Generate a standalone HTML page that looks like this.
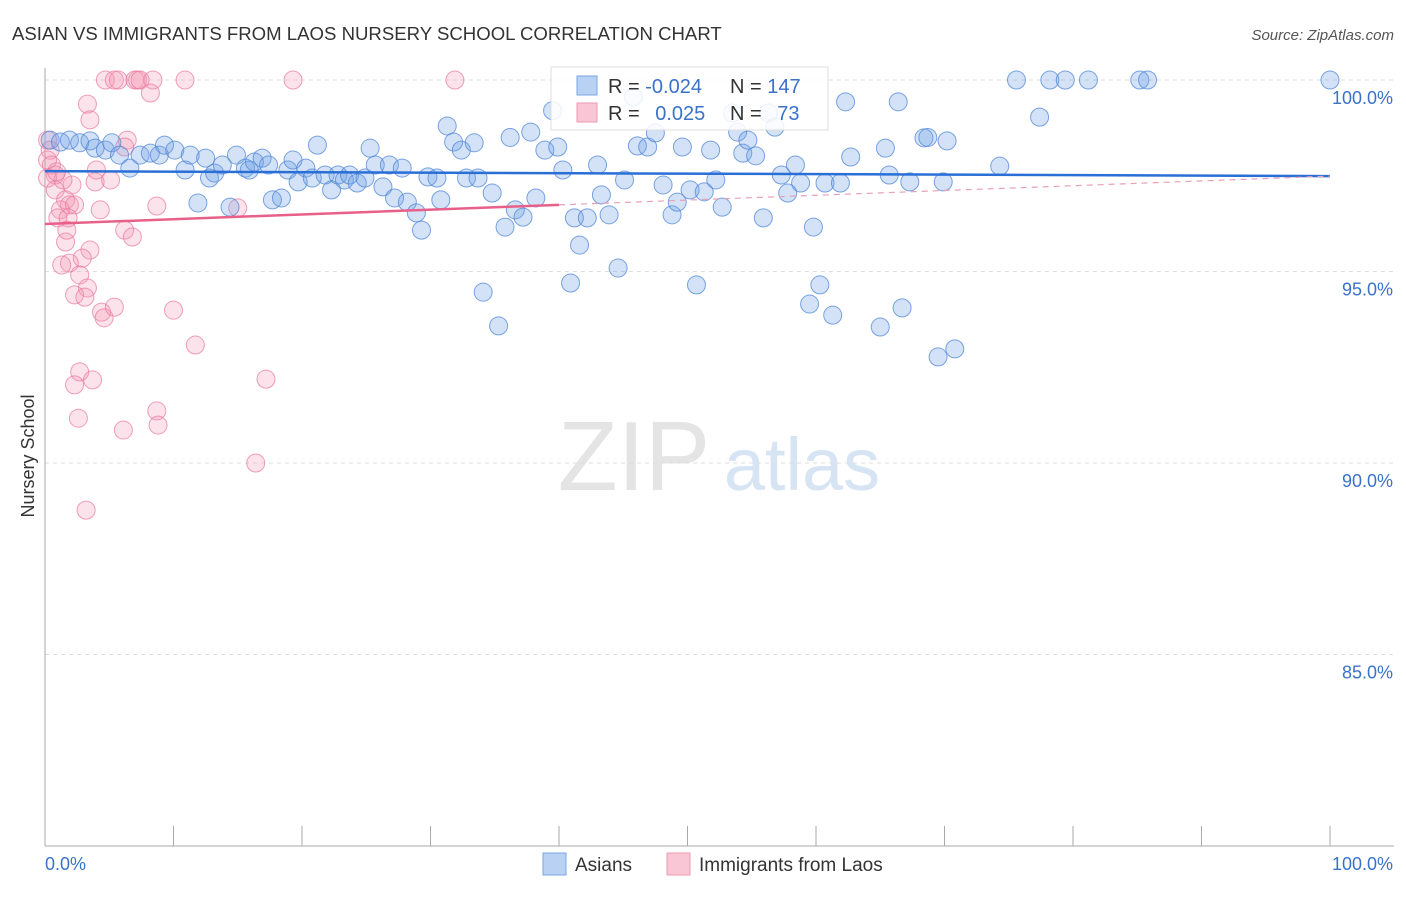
<!DOCTYPE html>
<html><head><meta charset="utf-8"><style>
body{margin:0;background:#fff;font-family:"Liberation Sans",sans-serif;}
svg text{font-family:"Liberation Sans",sans-serif;}
</style></head><body>
<svg id="c" width="1406" height="892">
<text x="12" y="40" font-size="18.6" fill="#333">ASIAN VS IMMIGRANTS FROM LAOS NURSERY SCHOOL CORRELATION CHART</text>
<text x="1394" y="40" font-size="15" fill="#555" font-style="italic" text-anchor="end">Source: ZipAtlas.com</text>
<text x="634" y="490" font-size="98" fill="#e4e4e4" font-family="Liberation Serif" text-anchor="middle">ZIP</text>
<text x="802" y="490" font-size="74" fill="#d6e4f4" text-anchor="middle">atlas</text>
<text transform="translate(34,456) rotate(-90)" font-size="18" fill="#333" text-anchor="middle">Nursery School</text>
<g id="grid"></g><g id="pts"></g><g id="lines"></g>
<g>
<rect x="551" y="67" width="277" height="63" fill="#fff" fill-opacity="0.85" stroke="#ddd"/>
<rect x="577" y="76" width="20" height="19" fill="#b9d2f3" stroke="#7aa6e0"/>
<rect x="577" y="103" width="20" height="19" fill="#f8c6d4" stroke="#ec9ab3"/>
<text x="608" y="93" font-size="20" fill="#333">R = <tspan fill="#3a72c9">-0.024</tspan></text>
<text x="730" y="93" font-size="20" fill="#333">N = <tspan fill="#3a72c9">147</tspan></text>
<text x="608" y="120" font-size="20" fill="#333">R = <tspan fill="#3a72c9" dx="10">0.025</tspan></text>
<text x="730" y="120" font-size="20" fill="#333">N = <tspan fill="#3a72c9" dx="10">73</tspan></text>
</g>
<g>
<rect x="543" y="853" width="23" height="22" fill="#b9d2f3" stroke="#7aa6e0"/>
<text x="575" y="871" font-size="19" fill="#333">Asians</text>
<rect x="667" y="853" width="23" height="22" fill="#f8c6d4" stroke="#ec9ab3"/>
<text x="699" y="871" font-size="19" fill="#333">Immigrants from Laos</text>
</g>
</svg>
<script>
const blueX=[0.4,1.2,1.9,2.7,3.5,3.9,4.7,5.2,5.8,6.6,7.4,8.2,8.9,9.3,10.1,10.9,11.3,11.9,12.5,12.8,13.2,13.8,14.4,14.9,15.6,15.9,16.3,16.9,17.4,17.7,18.4,18.9,19.3,19.7,20.3,20.8,21.2,21.8,22.3,22.8,23.3,23.7,24.3,24.9,25.3,25.7,26.3,26.8,27.2,27.8,28.2,28.9,29.3,29.8,30.5,30.8,31.3,31.8,32.4,32.8,33.4,33.7,34.1,34.8,35.3,35.8,36.2,36.6,37.2,37.8,38.2,38.9,39.5,39.9,40.3,40.9,41.2,41.6,42.2,43.0,43.3,43.9,44.6,45.1,45.8,46.1,46.9,47.5,48.1,48.8,49.2,49.6,50.2,50.7,51.3,51.8,52.2,52.7,53.5,53.9,54.3,54.7,55.3,55.9,56.3,56.8,57.3,57.8,58.4,58.8,59.5,59.8,60.3,60.7,61.3,61.9,62.3,62.7,65.0,65.4,65.7,66.4,66.7,67.3,68.4,68.7,69.5,69.9,70.2,70.8,74.3,75.6,77.4,78.2,79.4,81.2,85.2,85.8,100];
const blueY=[98.43,98.38,98.43,98.36,98.41,98.22,98.17,98.36,98.04,97.7,98.04,98.09,98.04,98.3,98.17,97.65,98.04,96.79,97.96,97.44,97.57,97.78,96.68,98.04,97.7,97.65,97.86,97.96,97.78,96.87,96.92,97.65,97.91,97.34,97.7,97.44,98.3,97.52,97.13,97.52,97.39,97.52,97.31,97.44,98.22,97.78,97.21,97.78,96.92,97.7,96.81,96.53,96.08,97.47,97.44,96.87,98.8,98.38,98.17,97.44,98.36,97.44,94.46,97.05,93.58,96.16,98.5,96.61,96.42,98.64,96.92,98.17,99.2,98.25,97.65,94.7,96.4,95.69,96.4,97.78,97.0,96.48,95.09,97.39,99.56,98.28,98.25,98.62,97.26,96.48,96.81,98.25,97.13,94.65,97.08,98.17,97.39,96.68,99.14,98.64,98.09,98.43,98.02,96.4,99.14,98.77,97.52,97.05,97.78,97.31,94.15,96.16,94.65,97.31,93.86,97.31,99.43,97.99,93.55,98.22,97.52,99.43,94.05,97.34,98.49,98.5,92.77,97.34,98.41,92.98,97.75,100,99.03,100,100,100,100,100,100];
const pinkX=[4.7,5.4,5.7,7.0,7.2,7.4,8.4,10.9,19.3,31.9,8.2,3.3,3.5,6.4,6.2,0.2,0.4,0.2,0.5,0.8,0.2,0.8,1.6,1.9,1.2,2.3,1.0,1.8,1.6,3.5,2.9,1.9,2.7,3.3,2.3,3.1,3.9,4.0,5.1,4.3,6.2,6.8,8.7,15.0,4.4,4.6,5.4,10.0,11.7,2.7,2.3,3.7,17.2,2.6,8.7,8.8,6.1,16.4,3.2,2.1,1.4,0.9,1.7,1.3];
const pinkY=[100,100,100,100,100,100,100,100,100,100,99.66,99.37,98.96,98.43,98.25,98.43,98.17,97.91,97.78,97.52,97.44,97.13,96.87,96.74,96.61,96.74,96.4,96.4,95.77,95.56,95.35,95.22,94.91,94.57,94.39,94.33,97.34,97.65,97.39,96.61,96.08,95.9,96.71,96.66,93.94,93.79,94.07,93.99,93.08,92.38,92.04,92.17,92.19,91.17,91.36,90.99,90.86,90.0,88.77,97.26,97.39,97.6,96.08,95.17];
const blueTrend=[97.62,97.49];
const pinkTrend=[96.24,96.74,97.49];
const pinkSolidEnd=40;
const yTicks=[100,95,90,85];
const yTickLabels=["100.0%","95.0%","90.0%","85.0%"];
const xTicks=[0,10,20,30,40,50,60,70,80,90,100];

const NS="http://www.w3.org/2000/svg";
const X=v=>45+v/100*1285;
const Y=v=>80+(100-v)*38.3;
function mk(tag,attrs,parent){const e=document.createElementNS(NS,tag);for(const k in attrs)e.setAttribute(k,attrs[k]);parent.appendChild(e);return e;}
const grid=document.getElementById('grid'),pts=document.getElementById('pts'),lines=document.getElementById('lines');
yTicks.forEach((t,i)=>{
  const l=mk('line',{x1:45,x2:1394,y1:Y(t),y2:Y(t),stroke:'#ddd','stroke-dasharray':'4,4'},grid);
  
  
  const tx=mk('text',{x:1393,y:Y(t)+24,'font-size':18,fill:'#3a72c9','text-anchor':'end'},grid);
  tx.textContent=yTickLabels[i];
  
  
});
const ax=mk('line',{x1:45,x2:45,y1:68,y2:846,stroke:'#aaa'},grid);


const bx=mk('line',{x1:45,x2:1394,y1:846,y2:846,stroke:'#aaa'},grid);


xTicks.forEach(t=>{
  const l=mk('line',{x1:X(t),x2:X(t),y1:826,y2:846,stroke:'#aaa'},grid);
  
  
});
const xl0=mk('text',{x:45,y:870,'font-size':18,fill:'#3a72c9'},grid);xl0.textContent='0.0%';


const xl1=mk('text',{x:1393,y:870,'font-size':18,fill:'#3a72c9','text-anchor':'end'},grid);xl1.textContent='100.0%';


pinkX.forEach((v,i)=>{
  const c=mk('circle',{cx:X(v),cy:Y(pinkY[i]),r:9,fill:'rgba(244,150,180,0.28)',stroke:'rgba(232,120,160,0.7)','stroke-width':1},pts);
  
  
});
blueX.forEach((v,i)=>{
  const c=mk('circle',{cx:X(v),cy:Y(blueY[i]),r:9,fill:'rgba(110,160,230,0.3)',stroke:'rgba(80,135,215,0.75)','stroke-width':1},pts);
  
  
});
const bl=mk('line',{x1:X(0),y1:Y(blueTrend[0]),x2:X(100),y2:Y(blueTrend[1]),stroke:'#2a6fd6','stroke-width':2.5},lines);


const pl=mk('line',{x1:X(0),y1:Y(pinkTrend[0]),x2:X(pinkSolidEnd),y2:Y(pinkTrend[1]),stroke:'#e8608a','stroke-width':2.5},lines);


const pd=mk('line',{x1:X(pinkSolidEnd),y1:Y(pinkTrend[1]),x2:X(100),y2:Y(pinkTrend[2]),stroke:'#e8a0b8','stroke-width':1.2,'stroke-dasharray':'6,5'},lines);


</script>
</body></html>
